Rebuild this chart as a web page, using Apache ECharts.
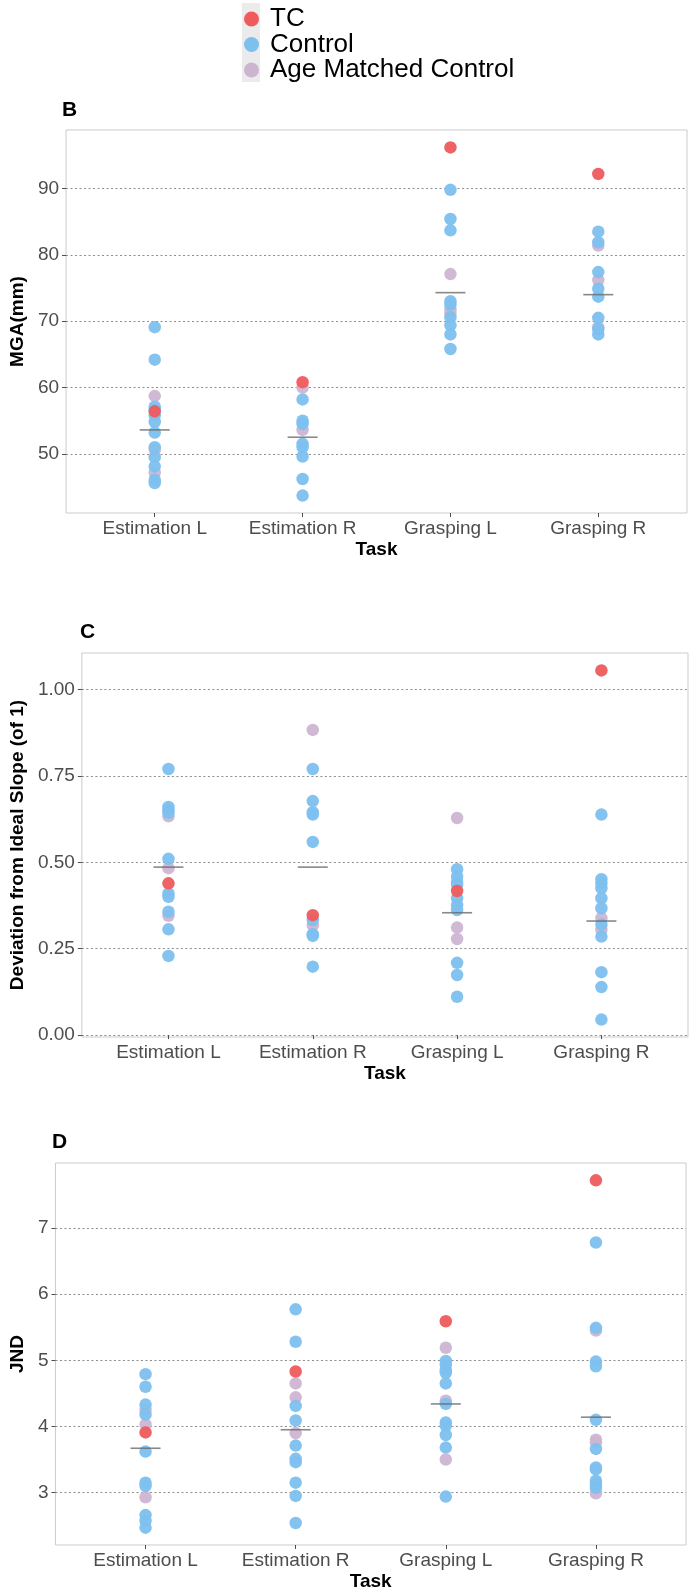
<!DOCTYPE html>
<html>
<head>
<meta charset="utf-8">
<script src="https://cdn.jsdelivr.net/npm/echarts@6.0.0/dist/echarts.min.js"></script>
<style>
  html, body { margin: 0; padding: 0; background: #ffffff; }
  #chart { width: 696px; height: 1596px; }
</style>
</head>
<body>
<div id="chart"></div>
<script>
// Task categories shared by all three panels
const categories = ['Estimation L', 'Estimation R', 'Grasping L', 'Grasping R'];
const groupNames = ['TC', 'Control', 'Age Matched Control'];

// Panel B: maximum grip aperture (mm), one list per task
const mgaTC = [[56.4], [60.8], [96.2], [92.2]];
const mgaControl = [
  [69.1, 64.2, 57.1, 56.6, 55.8, 54.8, 53.2, 51.0, 49.5, 48.1, 46.1, 45.6],
  [58.2, 55.0, 54.5, 51.5, 51.0, 49.6, 46.2, 43.7],
  [89.8, 85.4, 83.7, 73.0, 72.5, 70.6, 69.4, 68.0, 65.8],
  [83.5, 81.9, 77.4, 74.9, 73.7, 70.5, 68.8, 68.0]
];
const mgaAgeMatched = [[58.7, 50.6, 47.2], [60.0, 53.6], [77.1, 71.8, 71.2], [81.4, 76.2, 69.1]];
const mgaMean = [53.6, 52.5, 74.3, 74.0];
const mgaTicks = [50, 60, 70, 80, 90];

// Panel C: deviation from the ideal slope of 1
const slopeTC = [[0.439], [0.347], [0.417], [1.055]];
const slopeControl = [
  [0.770, 0.660, 0.651, 0.643, 0.510, 0.410, 0.400, 0.357, 0.306, 0.229],
  [0.770, 0.677, 0.645, 0.638, 0.559, 0.333, 0.292, 0.287, 0.198],
  [0.480, 0.459, 0.444, 0.434, 0.396, 0.376, 0.362, 0.209, 0.174, 0.111],
  [0.638, 0.451, 0.439, 0.425, 0.396, 0.367, 0.320, 0.285, 0.182, 0.139, 0.045]
];
const slopeAgeMatched = [[0.633, 0.483, 0.345], [0.883, 0.318], [0.628, 0.311, 0.278], [0.338, 0.304]];
const slopeMean = [0.486, 0.486, 0.354, 0.330];
const slopeTicks = [0, 0.25, 0.5, 0.75, 1.0];

// Panel D: just noticeable difference
const jndTC = [[3.91], [4.83], [5.59], [7.72]];
const jndControl = [
  [4.79, 4.60, 4.33, 4.18, 3.62, 3.15, 3.10, 2.66, 2.57, 2.47],
  [5.77, 5.28, 4.31, 4.09, 3.71, 3.51, 3.46, 3.15, 2.95, 2.54],
  [4.99, 4.93, 4.85, 4.81, 4.65, 4.34, 4.06, 4.01, 3.87, 3.68, 2.94],
  [6.78, 5.49, 4.98, 4.91, 4.10, 3.66, 3.38, 3.35, 3.18, 3.13, 3.07]
];
const jndAgeMatched = [[4.25, 4.03, 2.93], [4.65, 4.44, 3.90], [5.19, 4.39, 3.50], [5.45, 3.80, 3.76, 2.99]];
const jndMean = [3.67, 3.95, 4.34, 4.14];
const jndTicks = [3, 4, 5, 6, 7];

const FONT = "'Liberation Sans', Arial, Helvetica, sans-serif";
const COLORS = { 'TC': '#ef5b5c', 'Control': '#7dc0ee', 'Age Matched Control': '#cdb5d2' };
const TEXT_GREY = '#4d4d4d';

const panels = [
  { tag: 'B', yName: 'MGA(mm)', nameGap: 32, fmt: v => String(v),
    groups: { 'TC': mgaTC, 'Control': mgaControl, 'Age Matched Control': mgaAgeMatched },
    mean: mgaMean, ticks: mgaTicks,
    box: { left: 62, top: 130, width: 625, height: 383 }, tagPos: { left: 62, top: 100 } },
  { tag: 'C', yName: 'Deviation from Ideal Slope (of 1)', nameGap: 44, fmt: v => v.toFixed(2),
    groups: { 'TC': slopeTC, 'Control': slopeControl, 'Age Matched Control': slopeAgeMatched },
    mean: slopeMean, ticks: slopeTicks,
    box: { left: 78, top: 653, width: 610, height: 384 }, tagPos: { left: 80, top: 622 } },
  { tag: 'D', yName: 'JND', nameGap: 23, fmt: v => String(v),
    groups: { 'TC': jndTC, 'Control': jndControl, 'Age Matched Control': jndAgeMatched },
    mean: jndMean, ticks: jndTicks,
    box: { left: 51.5, top: 1163, width: 634.5, height: 382 }, tagPos: { left: 52, top: 1132 } }
];

// ggplot-style 5% padding around the data range
function paddedExtent(p) {
  const all = [];
  Object.values(p.groups).forEach(g => g.forEach(list => list.forEach(v => all.push(v))));
  const lo = Math.min(...all), hi = Math.max(...all);
  const pad = (hi - lo) * 0.05;
  return [lo - pad, hi + pad];
}

const grids = [], xAxes = [], yAxes = [], series = [], titles = [];
const catPositions = categories.map((c, i) => i + 1);

panels.forEach((p, k) => {
  grids.push(Object.assign({ show: true, borderColor: '#cbcbcb', borderWidth: 1,
    backgroundColor: 'transparent', containLabel: false }, p.box));
  titles.push({ text: p.tag, left: p.tagPos.left, top: p.tagPos.top, padding: 0,
    textStyle: { fontFamily: FONT, fontSize: 21, fontWeight: 'bold', color: '#000' } });

  xAxes.push({
    type: 'value', gridIndex: k, min: 0.4, max: 4.6,
    name: 'Task', nameLocation: 'middle', nameGap: 27,
    nameTextStyle: { fontFamily: FONT, fontSize: 19, fontWeight: 'bold', color: '#000' },
    axisLine: { show: false },
    axisTick: { show: true, length: 4, customValues: catPositions, lineStyle: { color: TEXT_GREY } },
    axisLabel: { customValues: catPositions, formatter: v => categories[Math.round(v) - 1],
      fontFamily: FONT, fontSize: 19, color: TEXT_GREY, margin: 6 },
    splitLine: { show: false }
  });

  const ext = paddedExtent(p);
  yAxes.push({
    type: 'value', gridIndex: k, min: ext[0], max: ext[1],
    name: p.yName, nameLocation: 'middle', nameGap: p.nameGap, nameRotate: 90,
    nameTextStyle: { fontFamily: FONT, fontSize: 19, fontWeight: 'bold', color: '#000' },
    axisLine: { show: false },
    axisTick: { show: true, length: 4, customValues: p.ticks, lineStyle: { color: TEXT_GREY } },
    axisLabel: { customValues: p.ticks, formatter: p.fmt,
      fontFamily: FONT, fontSize: 19, color: TEXT_GREY, margin: 7 },
    splitLine: { show: true, lineStyle: { color: '#8c8c8c', width: 1, type: [2, 2.5] } }
  });

  // draw order: age matched, control, then TC on top
  ['Age Matched Control', 'Control', 'TC'].forEach(name => {
    const pts = [];
    p.groups[name].forEach((list, i) => list.forEach(v => pts.push([i + 1, v])));
    series.push({
      type: 'scatter', name: name, xAxisIndex: k, yAxisIndex: k,
      symbol: 'circle', symbolSize: 12.5, data: pts,
      itemStyle: { color: COLORS[name], opacity: 0.95 },
      emphasis: { disabled: true }, silent: true
    });
  });

  // group means as short horizontal bars
  series.push({
    type: 'scatter', name: 'mean', xAxisIndex: k, yAxisIndex: k,
    symbol: 'rect', symbolSize: [30, 1.6],
    data: p.mean.map((m, i) => [i + 1, m]),
    itemStyle: { color: '#6a6a6a' }, z: 5, silent: true
  });
});

const chart = echarts.init(document.getElementById('chart'), null, { renderer: 'canvas' });
chart.setOption({
  animation: false,
  backgroundColor: '#ffffff',
  textStyle: { fontFamily: FONT },
  title: titles,
  graphic: [{ type: 'rect', left: 242, top: 3, z: -1,
    shape: { width: 18, height: 79 }, style: { fill: '#ebebeb' } }],
  legend: {
    data: groupNames, orient: 'vertical', left: 244, top: 6, padding: 0,
    itemWidth: 15, itemHeight: 15, itemGap: -0.5, icon: 'circle',
    itemStyle: { opacity: 1 },
    textStyle: { fontFamily: FONT, fontSize: 26, color: '#000', padding: [0, 0, 0, 6] },
    selectedMode: false
  },
  grid: grids,
  xAxis: xAxes,
  yAxis: yAxes,
  series: series
});
</script>
</body>
</html>
